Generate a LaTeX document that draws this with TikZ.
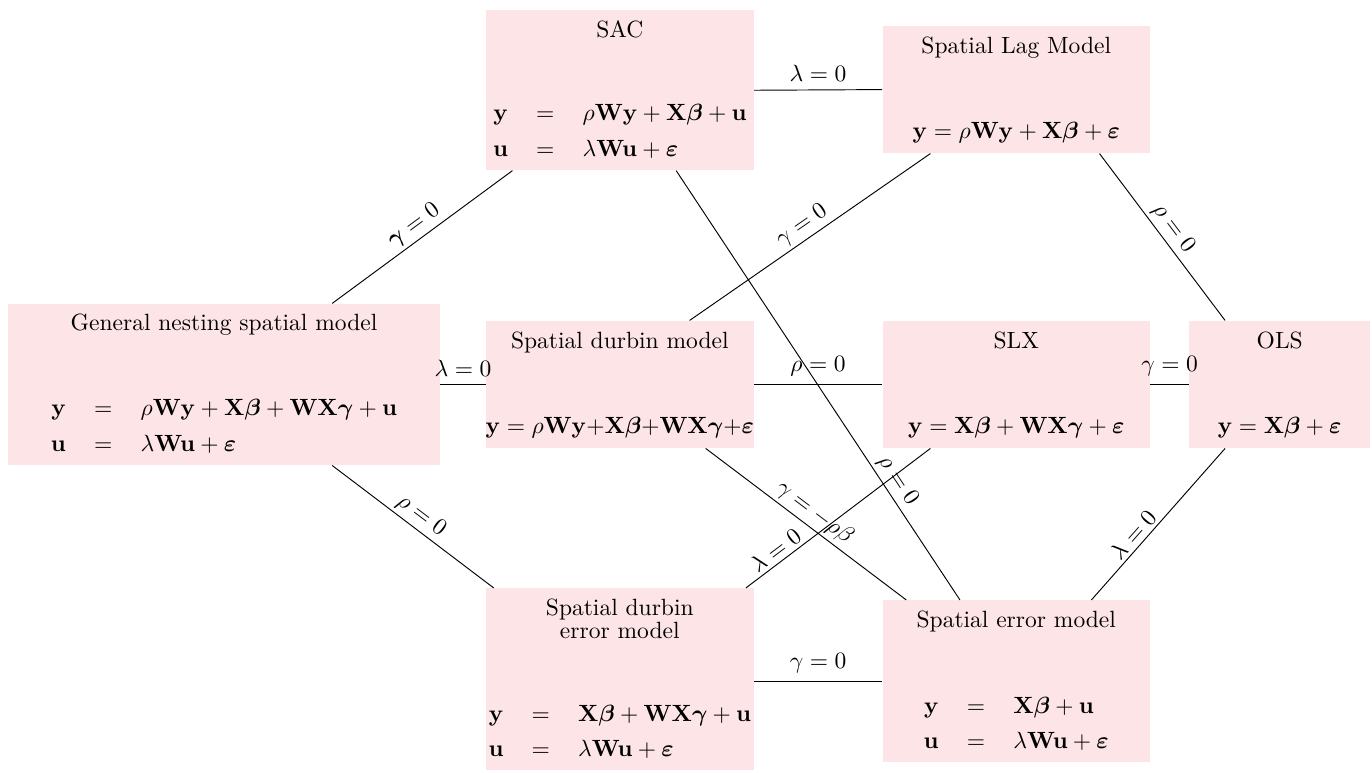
\documentclass[tikz,border=0pt]{standalone}
\usepackage{amsmath,bm}
\usetikzlibrary{calc}

\definecolor{boxpink}{RGB}{253,228,230}
\newcommand{\vb}[1]{\mathbf{#1}}
\newcommand{\eqpair}[2]{$\begin{array}{r@{\hspace{12pt}}c@{\hspace{12pt}}l}
  \vb{y} & = & #1\\[3pt]
  \vb{u} & = & #2
\end{array}$}

\begin{document}
\begin{tikzpicture}[
  x = 1mm, y = 1mm,
  model/.style = {fill=boxpink, inner sep=0pt, minimum width=40mm, minimum height=19mm},
  title/.style = {anchor=north, yshift=-0.4mm, align=center},
  eqn/.style   = {anchor=south, yshift=0.3mm},
  eqns/.style  = {anchor=south, yshift=-0.35mm},
  link/.style  = {draw, thin},
  cond/.style  = {sloped, above, inner sep=1.5pt},
]
\useasboundingbox (0,0) rectangle (205.2,115.5);

% model boxes
\node[model, minimum width=64.6mm, minimum height=24.1mm] (gns) at (33.5,58.0) {};
\node[model, minimum height=23.9mm] (sac)  at (92.7,102.0) {};
\node[model]                        (slm)  at (152.0,102.1) {};
\node[model]                        (sdm)  at (92.7,58.0) {};
\node[model]                        (slx)  at (152.0,58.0) {};
\node[model, minimum width=27.1mm]  (ols)  at (191.4,58.0) {};
\node[model, minimum height=27.2mm] (sdem) at (92.7,13.9) {};
\node[model, minimum height=24.2mm] (sem)  at (152.0,13.6) {};

% titles
\node[title] (gns-t)  at (gns.north)  {General nesting spatial model};
\node[title] (sac-t)  at (sac.north)  {SAC};
\node[title] (slm-t)  at (slm.north)  {Spatial Lag Model};
\node[title] (sdm-t)  at (sdm.north)  {Spatial durbin model};
\node[title] (slx-t)  at (slx.north)  {SLX};
\node[title] (ols-t)  at (ols.north)  {OLS};
\node[title] (sdem-t) at (sdem.north) {Spatial durbin\\[-2pt]error model};
\node[title] (sem-t)  at (sem.north)  {Spatial error model};

% equations
\node[eqns] (gns-e)  at (gns.south)
  {\eqpair{\rho\vb{Wy}+\vb{X}\bm\beta+\vb{WX}\bm\gamma+\vb{u}}{\lambda\vb{Wu}+\bm\varepsilon}};
\node[eqns] (sac-e)  at (sac.south)
  {\eqpair{\rho\vb{Wy}+\vb{X}\bm\beta+\vb{u}}{\lambda\vb{Wu}+\bm\varepsilon}};
\node[eqn] (slm-e)  at (slm.south) {$\vb{y}=\rho\vb{Wy}+\vb{X}\bm\beta+\bm\varepsilon$};
\node[eqn] (sdm-e)  at (sdm.south) {$\vb{y}=\rho\vb{Wy}{+}\vb{X}\bm\beta{+}\vb{WX}\bm\gamma{+}\bm\varepsilon$};
\node[eqn] (slx-e)  at (slx.south) {$\vb{y}=\vb{X}\bm\beta+\vb{WX}\bm\gamma+\bm\varepsilon$};
\node[eqn] (ols-e)  at (ols.south) {$\vb{y}=\vb{X}\bm\beta+\bm\varepsilon$};
\node[eqns] (sdem-e) at (sdem.south)
  {\eqpair{\vb{X}\bm\beta+\vb{WX}\bm\gamma+\vb{u}}{\lambda\vb{Wu}+\bm\varepsilon}};
\node[eqns] (sem-e)  at (sem.south)
  {\eqpair{\vb{X}\bm\beta+\vb{u}}{\lambda\vb{Wu}+\bm\varepsilon}};

% restrictions
\draw[link] (gns.east) -- node[above] {$\lambda=0$} (sdm.west);
\draw[link] (sac.east) -- node[above] {$\lambda=0$} (slm.west);
\draw[link] (sdm.east) -- node[above] {$\rho=0$} (slx.west);
\draw[link] (slx.east) -- node[above] {$\gamma=0$} (ols.west);
\draw[link] (sem.west -| sdem.east) -- node[above] {$\gamma=0$} (sem.west);

\draw[link] ($(gns.north west)!.75!(gns.north east)$)
  -- node[cond] {$\bm\gamma=0$} ($(sac.south west)!.1!(sac.south east)$);
\draw[link] ($(gns.south west)!.75!(gns.south east)$)
  -- node[cond] {$\rho=0$} ($(sdem.north west)!.03!(sdem.north east)$);
\draw[link] ($(sac.south west)!.71!(sac.south east)$)
  -- node[cond, pos=.74] {$\rho=0$} ($(sem.north west)!.29!(sem.north east)$);
\draw[link] ($(slm.south west)!.18!(slm.south east)$)
  -- node[cond] {$\gamma=0$} ($(sdm.north west)!.76!(sdm.north east)$);
\draw[link] ($(slm.south west)!.81!(slm.south east)$)
  -- node[cond] {$\rho=0$} ($(ols.north west)!.2!(ols.north east)$);
\draw[link] ($(sdm.south west)!.82!(sdm.south east)$)
  -- node[cond] {$\gamma=-\rho\beta$} ($(sem.north west)!.09!(sem.north east)$);
\draw[link] ($(slx.south west)!.18!(slx.south east)$)
  -- node[cond, pos=.8] {$\lambda=0$} ($(sdem.north west)!.97!(sdem.north east)$);
\draw[link] ($(ols.south west)!.2!(ols.south east)$)
  -- node[cond, pos=.62] {$\lambda=0$} ($(sem.north west)!.78!(sem.north east)$);

\end{tikzpicture}
\end{document}
